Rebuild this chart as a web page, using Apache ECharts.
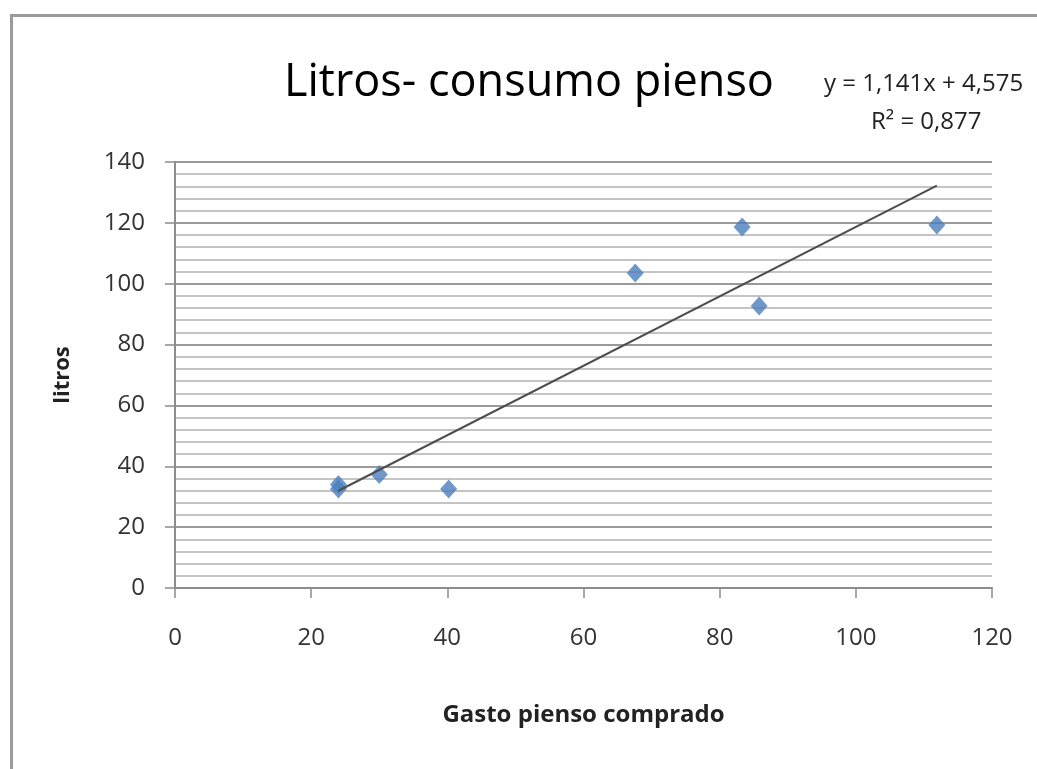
<!DOCTYPE html>
<html>
<head>
<meta charset="utf-8">
<style>
  html, body { margin: 0; padding: 0; background: #ffffff; }
  #chart { width: 1037px; height: 769px; }
</style>
<script src="https://cdn.jsdelivr.net/npm/echarts@6/dist/echarts.min.js"></script>
</head>
<body>
<div id="chart"></div>
<script>
// ---- data ----
const gastoPienso = [24, 24, 30, 40.2, 67.6, 83.3, 85.8, 111.9];   // x: Gasto pienso comprado
const litros      = [34, 32.5, 37.3, 32.5, 103.5, 118.6, 92.7, 119.3]; // y: litros
const trendSlope = 1.141;       // from the printed equation
const trendIntercept = 4.575;
const equationText = 'y = 1,141x + 4,575';
const r2Text = 'R² = 0,877';
const xTicks = [0, 20, 40, 60, 80, 100, 120];
const yTicks = [0, 20, 40, 60, 80, 100, 120, 140];

const FONT = '"Open Sans", "Noto Sans", sans-serif';

const points = gastoPienso.map((x, i) => [x, litros[i]]);
const xMin = Math.min(...gastoPienso), xMax = Math.max(...gastoPienso);
const trend = [[xMin, trendSlope * xMin + trendIntercept], [xMax, trendSlope * xMax + trendIntercept]];

const chart = echarts.init(document.getElementById('chart'), null, { renderer: 'canvas' });
chart.setOption({
  backgroundColor: '#ffffff',
  animation: false,
  title: {
    text: 'Litros- consumo pienso',
    left: 279,
    top: 56,
    textStyle: { fontFamily: FONT, fontSize: 45, fontWeight: 'normal', color: '#000000' }
  },
  graphic: [
    { type: 'rect', left: 9, top: 13, shape: { width: 1100, height: 800 },
      style: { fill: 'none', stroke: '#9a9a9a', lineWidth: 3 }, z: -1 },
    { type: 'text', left: 824, top: 72,
      style: { text: equationText, fontFamily: FONT, fontSize: 24, fill: '#222222' } },
    { type: 'text', left: 871, top: 110,
      style: { text: r2Text, fontFamily: FONT, fontSize: 24, fill: '#222222' } }
  ],
  grid: { left: 175, right: 45, top: 162, bottom: 181, containLabel: false },
  xAxis: {
    type: 'value', min: xTicks[0], max: xTicks[xTicks.length - 1], interval: 20,
    name: 'Gasto pienso comprado', nameLocation: 'middle', nameGap: 115,
    nameTextStyle: { fontFamily: FONT, fontSize: 24, fontWeight: 'bold', color: '#222222' },
    axisLine: { show: true, onZero: false, lineStyle: { color: '#8c8c8c', width: 2 } },
    axisTick: { show: true, inside: false, length: 10, lineStyle: { color: '#8c8c8c', width: 1.5 } },
    axisLabel: { margin: 38, fontFamily: FONT, fontSize: 24, color: '#333333' },
    splitLine: { show: false }
  },
  yAxis: {
    type: 'value', min: yTicks[0], max: yTicks[yTicks.length - 1], interval: 20,
    name: 'litros', nameLocation: 'middle', nameGap: 101,
    nameTextStyle: { fontFamily: FONT, fontSize: 22, fontWeight: 'bold', color: '#222222' },
    axisLine: { show: true, lineStyle: { color: '#8c8c8c', width: 2 } },
    axisTick: { show: true, inside: false, length: 10, lineStyle: { color: '#8c8c8c', width: 1.5 } },
    axisLabel: { margin: 30, fontFamily: FONT, fontSize: 24, color: '#333333' },
    splitLine: { show: true, lineStyle: { color: '#9a9a9a', width: 2 } },
    minorTick: { show: false, splitNumber: 5 },
    minorSplitLine: { show: true, lineStyle: { color: '#c4c4c4', width: 2 } }
  },
  series: [
    {
      type: 'scatter', data: points, symbol: 'diamond', symbolSize: [17, 19],
      itemStyle: { color: '#4a7ebb' }, z: 3
    },
    {
      type: 'line', data: trend, symbol: 'none', silent: true,
      lineStyle: { color: '#4d4d4d', width: 2 }, z: 4
    }
  ]
});
</script>
</body>
</html>
